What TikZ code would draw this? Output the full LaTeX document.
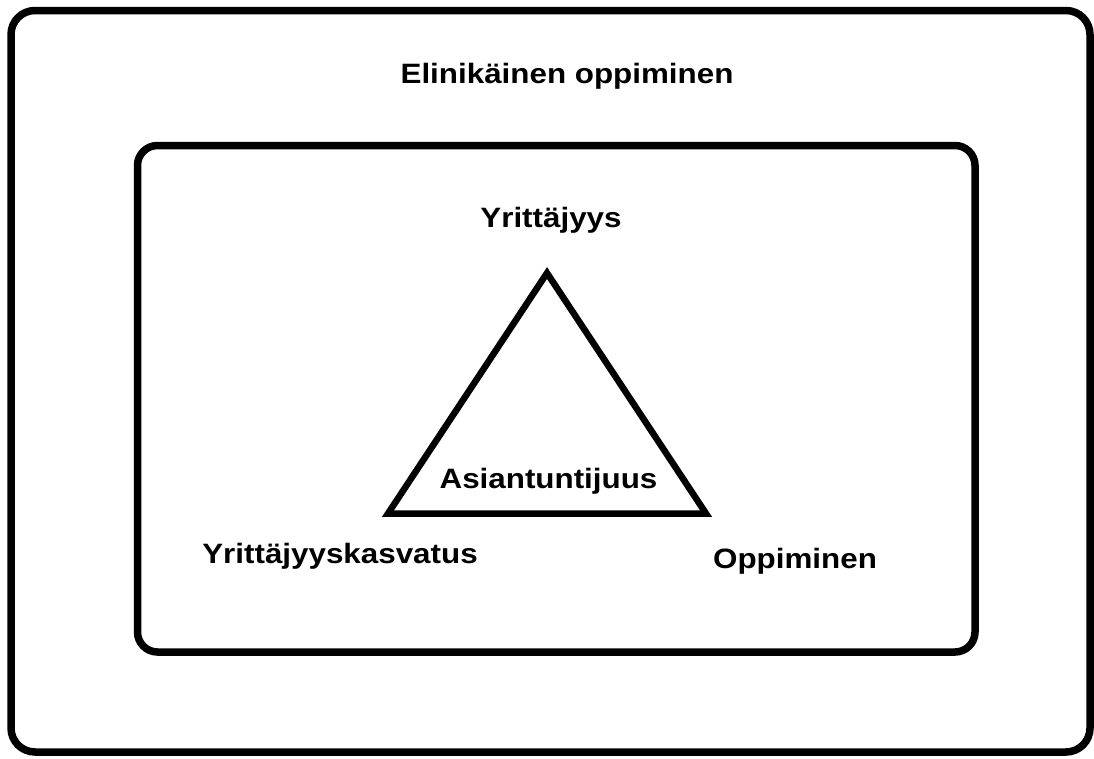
\documentclass[tikz,border=0pt]{standalone}
\usepackage{fontspec}
\setmainfont{Liberation Sans}
\newfontfamily\labfont[FakeStretch=1.12]{Liberation Sans}
\begin{document}
\begin{tikzpicture}[x=1pt,y=-1pt,
  lbl/.style={anchor=base,inner sep=0pt,font=\labfont\fontsize{28}{32}\selectfont\bfseries},
  frame/.style={draw=black,line width=7.5pt},
  tri/.style={draw=black,line width=6.5pt,line join=miter}]
\useasboundingbox (0,0) rectangle (1094,758);
\fill[white] (0,0) rectangle (1094,758);
\draw[frame,rounded corners=24pt] (11,10.5) rectangle (1090,752);
\draw[frame,rounded corners=20pt] (137.5,145.5) rectangle (975,652);
\coordinate (A) at (547,273);
\coordinate (B) at (388,513.5);
\coordinate (C) at (706,513.5);
\draw[tri] (A) -- (B) -- (C) -- cycle;
\node[lbl] (el) at (567,83) {Elinikäinen oppiminen};
\node[lbl] (yr) at (551,227) {Yrittäjyys};
\node[lbl] (as) at (548.5,488) {Asiantuntijuus};
\node[lbl] (yk) at (340,563) {Yrittäjyyskasvatus};
\node[lbl] (op) at (795,568) {Oppiminen};
\end{tikzpicture}
\end{document}
